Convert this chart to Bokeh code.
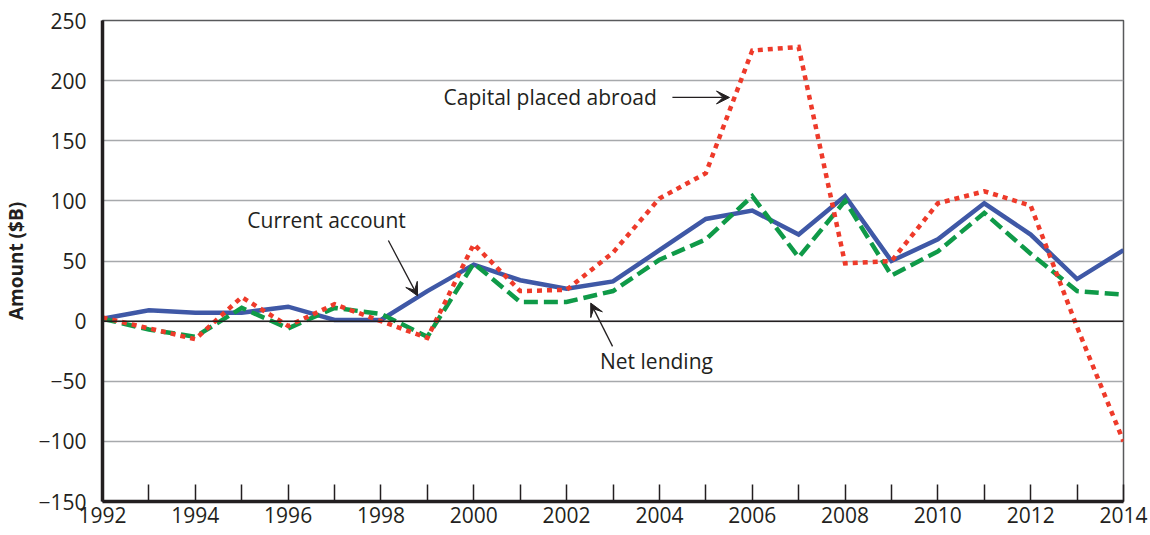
from bokeh.plotting import figure
from bokeh.models import Range1d, FixedTicker, Span, Label, Arrow, VeeHead
from bokeh.embed import file_html
from bokeh.resources import INLINE

years = list(range(1992, 2015))
current_account = [2, 9, 7, 7, 12, 1, 1, 25, 47, 34, 27, 33, 59, 85, 92, 72, 104, 50, 68, 98, 72, 35, 59]
net_lending = [2, -7, -13, 11, -6, 11, 6, -13, 48, 16, 16, 25, 51, 68, 104, 53, 100, 38, 58, 90, 56, 25, 22]
capital_abroad = [3, -6, -15, 20, -4, 14, 0, -14, 64, 25, 26, 57, 102, 123, 225, 228, 48, 50, 98, 108, 96, -5, -100]

y_ticks = [-150, -100, -50, 0, 50, 100, 150, 200, 250]
x_tick_labels = {y: (str(y) if y % 2 == 0 else "") for y in years}
y_tick_labels = {v: (str(v) if v >= 0 else "\u2212" + str(-v)) for v in y_ticks}

FONT = "Open Sans"
DARK = "#231f20"

p = figure(width=1148, height=535, output_backend="svg", toolbar_location=None,
           x_range=Range1d(1992, 2014), y_range=Range1d(-150, 250),
           min_border_left=102, min_border_right=25, min_border_top=20, min_border_bottom=34)
p.background_fill_color = "white"
p.border_fill_color = "white"
p.outline_line_color = "#58595b"
p.outline_line_width = 1.5

p.xaxis.ticker = FixedTicker(ticks=years)
p.xaxis.major_label_overrides = x_tick_labels
p.xaxis.major_label_standoff = 5
p.xaxis.major_label_text_font = FONT
p.xaxis.major_label_text_font_size = "21px"
p.xaxis.major_label_text_color = DARK
p.xaxis.major_tick_in = 17
p.xaxis.major_tick_out = 0
p.xaxis.major_tick_line_color = DARK
p.xaxis.major_tick_line_width = 1.5
p.xaxis.minor_tick_line_color = None
p.xaxis.axis_line_color = DARK
p.xaxis.axis_line_width = 3.5

p.yaxis.ticker = FixedTicker(ticks=y_ticks)
p.yaxis.major_label_overrides = y_tick_labels
p.yaxis.major_tick_line_color = None
p.yaxis.minor_tick_line_color = None
p.yaxis.axis_line_color = DARK
p.yaxis.axis_line_width = 3.5
p.yaxis.major_label_standoff = 10
p.yaxis.major_label_text_font = FONT
p.yaxis.major_label_text_font_size = "21px"
p.yaxis.major_label_text_color = DARK
p.yaxis.axis_label = "Amount ($B)"
p.yaxis.axis_label_text_font = FONT
p.yaxis.axis_label_text_font_style = "bold"
p.yaxis.axis_label_text_font_size = "19px"
p.yaxis.axis_label_text_color = DARK
p.yaxis.axis_label_standoff = 6

p.xgrid.grid_line_color = None
p.ygrid.grid_line_color = "#a7a9ac"
p.ygrid.grid_line_width = 1.5

p.add_layout(Span(location=0, dimension="width", line_color=DARK, line_width=1.5))

p.line(years, current_account, line_color="#3f58a6", line_width=4.5, line_join="miter")
p.line(years, net_lending, line_color="#0f9a48", line_width=4.5, line_dash="14 6", line_join="miter")
p.line(years, capital_abroad, line_color="#ee3a2a", line_width=4.5, line_dash="5 5", line_join="miter")

def label(x, y, text):
    p.add_layout(Label(x=x, y=y, text=text, text_font=FONT, text_font_size="21px",
                       text_color=DARK, text_baseline="middle", text_align="left"))

def arrow(x0, y0, x1, y1):
    p.add_layout(Arrow(end=VeeHead(size=13, fill_color=DARK, line_color=DARK),
                       x_start=x0, y_start=y0, x_end=x1, y_end=y1,
                       line_color=DARK, line_width=1.3))

label(1999.35, 186, "Capital placed abroad")
arrow(2004.28, 186, 2005.51, 186)
label(1995.12, 84, "Current account")
arrow(1998.16, 67, 1998.79, 21)
label(2002.72, -33, "Net lending")
arrow(2002.99, -21, 2002.52, 15)

open("out.html", "w").write(file_html(p, INLINE))
